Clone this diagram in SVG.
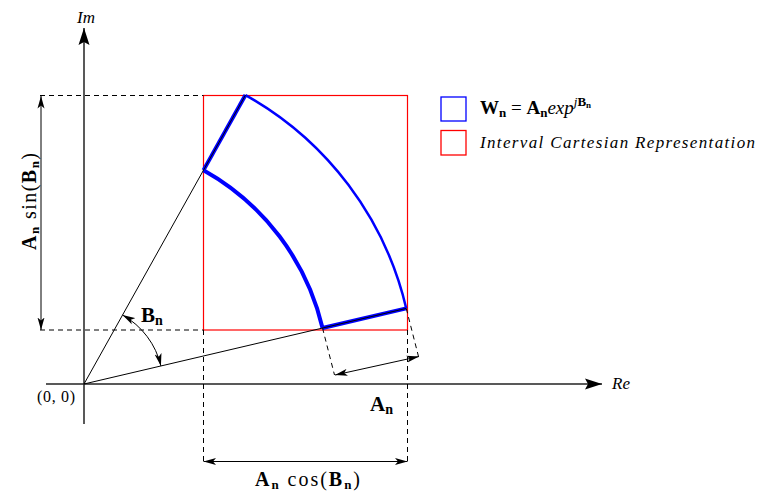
<svg xmlns="http://www.w3.org/2000/svg" width="760" height="492" viewBox="0 0 760 492">
<defs>
<style>
.ax{stroke:#222;stroke-width:1.5;fill:none}
.dash{stroke:#000;stroke-width:1;stroke-dasharray:5,4;fill:none}
.dim{stroke:#000;stroke-width:1;fill:none}
.ray{stroke:#000;stroke-width:1;fill:none}
.blue{stroke:#0000ff;fill:none;stroke-linejoin:round}
.red{stroke:#ff0000;stroke-width:1.2;fill:none}
text{font-family:"Liberation Serif","DejaVu Serif",serif;fill:#000}
.b{font-weight:bold}
.i{font-style:italic}
</style>
<marker id="axh" viewBox="0 0 18 12" refX="17" refY="6" markerWidth="18" markerHeight="12" markerUnits="userSpaceOnUse" orient="auto"><path d="M0,0.5 L17,6 L0,11.5 L3,6 Z" fill="#000"/></marker>
<marker id="arh" viewBox="0 0 13 8" refX="12.5" refY="4" markerWidth="13" markerHeight="8" markerUnits="userSpaceOnUse" orient="auto-start-reverse"><path d="M0,0.5 L12.5,4 L0,7.5 L3,4 Z" fill="#000"/></marker>
</defs>
<rect width="760" height="492" fill="#fff"/>

<g id="axes">
<line class="ax" x1="46" y1="384" x2="602" y2="384" marker-end="url(#axh)"/>
<line class="ax" x1="84" y1="424" x2="84" y2="28" marker-end="url(#axh)"/>
<text class="i" x="612" y="389" font-size="17">Re</text>
<text class="i" x="77" y="23" font-size="17">Im</text>
<text x="37" y="402" font-size="16" textLength="38">(0, 0)</text>
</g>

<g id="interval-box">
<rect class="red" x="203.5" y="95.5" width="204" height="234.5"/>
</g>

<g id="sector">
<path class="blue" stroke-width="4" d="M203.53,170.13 A245,245 0 0 1 322.53,328.05"/>
<path class="blue" stroke-width="2.5" d="M245.48,95.06 A331,331 0 0 1 406.26,308.42"/>
<path class="blue" stroke-width="4" d="M203.53,170.13 L245.48,95.06"/>
<path class="blue" stroke-width="4" d="M322.53,328.05 L406.26,308.42"/>
</g>

<g id="connectors">
<path class="ray" d="M84,384 L245.48,95.06"/>
<path class="ray" d="M84,384 L406.26,308.42"/>
<path class="dash" d="M40,95.5 H203.5 M40,330 H203.5 M203.5,330 V462 M407.5,330 V462 M322.53,328.05 L334.5,375 M406.26,308.42 L418.5,356.5"/>
<line class="dim" x1="41" y1="96" x2="41" y2="330" marker-start="url(#arh)" marker-end="url(#arh)"/>
<line class="dim" x1="203.5" y1="461.5" x2="407.5" y2="461.5" marker-start="url(#arh)" marker-end="url(#arh)"/>
<line class="dim" x1="335" y1="375" x2="419" y2="356.5" marker-start="url(#arh)" marker-end="url(#arh)"/>
<path class="dim" d="M122.54,315.04 A79,79 0 0 1 160.91,365.96" marker-start="url(#arh)" marker-end="url(#arh)"/>
</g>

<g id="labels">
<text x="36" y="250" font-size="20" transform="rotate(-90 36 250)" textLength="97" lengthAdjust="spacing"><tspan class="b">A</tspan><tspan class="b" font-size="13" dy="3">n</tspan><tspan dy="-3"> sin(</tspan><tspan class="b">B</tspan><tspan class="b" font-size="13" dy="3">n</tspan><tspan dy="-3">)</tspan></text>
<text x="255" y="486" font-size="20" textLength="105" lengthAdjust="spacing"><tspan class="b">A</tspan><tspan class="b" font-size="13" dy="3">n</tspan><tspan dy="-3"> cos(</tspan><tspan class="b">B</tspan><tspan class="b" font-size="13" dy="3">n</tspan><tspan dy="-3">)</tspan></text>
<text x="370" y="411" font-size="21"><tspan class="b">A</tspan><tspan class="b" font-size="14" dy="3">n</tspan></text>
<text x="141" y="322" font-size="21"><tspan class="b">B</tspan><tspan class="b" font-size="14" dy="3">n</tspan></text>
</g>

<g id="legend">
<rect x="441" y="97" width="25" height="24" fill="none" stroke="#0000ff" stroke-width="1.3"/>
<rect x="441" y="130.5" width="25" height="24.5" fill="none" stroke="#ff0000" stroke-width="1.3"/>
<text x="480" y="114" font-size="19"><tspan class="b">W</tspan><tspan class="b" font-size="13" dy="3">n</tspan><tspan dy="-3"> = </tspan><tspan class="b">A</tspan><tspan class="b" font-size="13" dy="3">n</tspan><tspan class="i" dy="-3">exp</tspan><tspan class="i" font-size="13" dy="-8">j</tspan><tspan class="b" font-size="13">B</tspan><tspan class="b" font-size="9" dy="2">n</tspan></text>
<text class="i" x="480" y="148" font-size="17" textLength="275" lengthAdjust="spacing">Interval Cartesian Representation</text>
</g>
</svg>
